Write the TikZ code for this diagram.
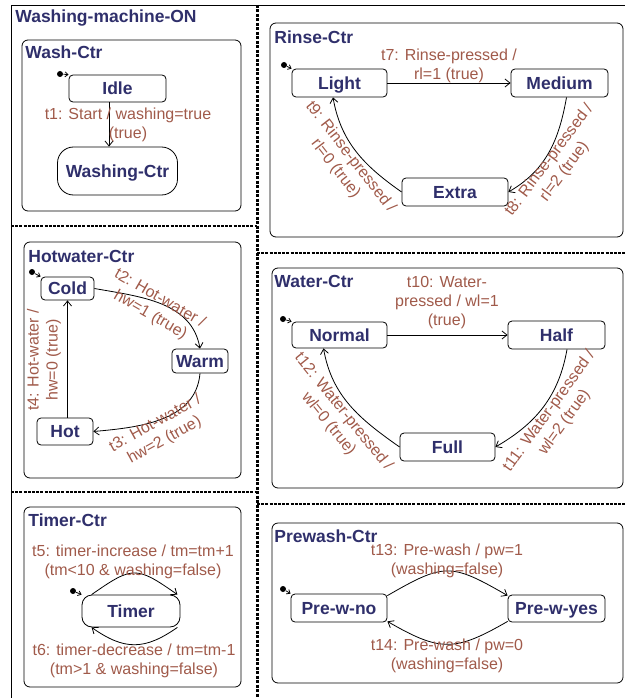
\documentclass[tikz,border=0pt]{standalone}
\usepackage{fontspec}
\setmainfont{Liberation Sans}
\usetikzlibrary{arrows.meta}
\definecolor{navy}{RGB}{47,47,107}
\definecolor{rust}{RGB}{160,90,74}

\begin{document}
\begin{tikzpicture}[x=1pt,y=1pt,line width=0.8pt,
    region/.style={draw,rounded corners=6pt},
    rtitle/.style={anchor=base west,inner sep=0pt,text=navy,font=\fontsize{17.5}{20}\selectfont\bfseries},
    state/.style={draw,fill=white,rounded corners=4pt,inner sep=0pt,text height=12.6pt,text depth=0pt,
                  text=navy,font=\fontsize{17.5}{20}\selectfont\bfseries},
    lbl/.style={inner sep=0pt,text=rust,align=center,font=\fontsize{16}{19}\selectfont},
    init/.style={circle,fill,inner sep=0pt,minimum size=6pt},
    trans/.style={-{Straight Barb[length=5pt,width=8pt]}},
    initarr/.style={-{Straight Barb[length=3pt,width=5pt]}}]
    \useasboundingbox (0,0) rectangle (625,-698);

    \draw (11,-698) -- (11,-5) -- (625,-5);
    \node[rtitle] (machine) at (15,-22.5) {Washing-machine-ON};
    \draw[line width=3pt,dash pattern=on 3pt off 1.5pt] (257,-5) -- (257,-698);
    \draw[line width=2pt,dash pattern=on 3pt off 1.2pt]
        (11,-226) -- (257,-226)
        (11,-492) -- (257,-492)
        (257,-253) -- (625,-253)
        (257,-504) -- (625,-504);

    % Wash-Ctr
    \draw[region] (22,-40) rectangle (241,-211);
    \node[rtitle] (washctr) at (25,-59) {Wash-Ctr};
    \node[state,minimum width=97pt,minimum height=27pt] (idle) at (117.5,-88.5) {Idle};
    \node[state,rounded corners=16pt,minimum width=120pt,minimum height=48pt] (washing) at (117.5,-171) {Washing-Ctr};
    \node[init] (i1) at (60,-74) {};
    \draw[initarr] (i1) -- (idle.north west);
    \draw[trans] ([xshift=-8.5pt]idle.south) -- ([xshift=-8.5pt]washing.north);
    \node[lbl] (t1) at (128,-125) {t1: Start / washing=true\\(true)};

    % Rinse-Ctr
    \draw[region] (270,-23) rectangle (623,-237);
    \node[rtitle] (rinsectr) at (274,-44) {Rinse-Ctr};
    \node[state,minimum width=95pt,minimum height=28pt] (light) at (339.5,-83) {Light};
    \node[state,minimum width=97pt,minimum height=28pt] (medium) at (559.5,-83) {Medium};
    \node[state,minimum width=106pt,minimum height=28pt] (extra) at (455,-192) {Extra};
    \node[init] (i2) at (284,-65) {};
    \draw[initarr] (i2) -- (light.north west);
    \draw[trans] (light) -- (medium);
    \draw[trans] ([xshift=7pt]medium.south) to[out=-100,in=30] (extra.east);
    \draw[trans] (extra.west) to[out=145,in=-80] ([xshift=-6.5pt]light.south);
    \node[lbl] (t7) at (449,-66) {t7: Rinse-pressed /\\rl=1 (true)};
    \node[lbl,rotate=53] (t8) at (557,-166) {t8: Rinse-pressed /\\rl=2 (true)};
    \node[lbl,rotate=-52] (t9) at (343,-163) {t9: Rinse-pressed /\\rl=0 (true)};

    % Hotwater-Ctr
    \draw[region] (24,-242) rectangle (241,-478);
    \node[rtitle] (hotctr) at (28,-262.5) {Hotwater-Ctr};
    \node[state,minimum width=53pt,minimum height=23pt] (cold) at (67.5,-288.5) {Cold};
    \node[state,minimum width=56pt,minimum height=24pt] (warm) at (200,-361) {Warm};
    \node[state,minimum width=56pt,minimum height=27pt] (hot) at (65,-431.5) {Hot};
    \node[init] (i3) at (32,-272) {};
    \draw[initarr] (i3) -- (cold.north west);
    \draw[trans] (cold.east) to[out=-10,in=100] (warm.north);
    \draw[trans] (warm.south) to[out=-95,in=5] (hot.east);
    \draw[trans] (hot.north -| cold.south) -- (cold.south);
    \node[lbl,rotate=-30] (t2) at (155,-307) {t2: Hot-water /\\hw=1 (true)};
    \node[lbl,rotate=29] (t3) at (160,-432) {t3: Hot-water /\\hw=2 (true)};
    \node[lbl,rotate=90] (t4) at (44,-360) {t4: Hot-water /\\hw=0 (true)};

    % Water-Ctr
    \draw[region] (272,-268) rectangle (623,-488);
    \node[rtitle] (waterctr) at (274,-287.5) {Water-Ctr};
    \node[state,minimum width=95pt,minimum height=26pt] (normal) at (339.5,-335) {Normal};
    \node[state,minimum width=97pt,minimum height=28pt] (half) at (556.5,-335) {Half};
    \node[state,minimum width=95pt,minimum height=28pt] (full) at (447.5,-447) {Full};
    \node[init] (i4) at (283,-319) {};
    \draw[initarr] (i4) -- (normal.north west);
    \draw[trans] (normal) -- (half);
    \draw[trans] ([xshift=10.5pt]half.south) to[out=-100,in=30] (full.east);
    \draw[trans] (full.west) to[out=145,in=-80] ([xshift=-16pt]normal.south);
    \node[lbl] (t10) at (447,-303) {t10: Water-\\pressed / wl=1\\(true)};
    \node[lbl,rotate=54] (t11) at (557,-417) {t11: Water-pressed /\\wl=2 (true)};
    \node[lbl,rotate=-51] (t12) at (336,-418) {t12: Water-pressed /\\wl=0 (true)};

    % Timer-Ctr
    \draw[region] (24,-507) rectangle (241,-687);
    \node[rtitle] (timerctr) at (28,-526) {Timer-Ctr};
    \node[state,rounded corners=10pt,minimum width=98pt,minimum height=32pt] (timer) at (131,-611) {Timer};
    \node[init] (i5) at (73,-591) {};
    \draw[initarr] (i5) -- (timer.north west);
    \draw[trans] ([xshift=10pt]timer.north west) to[out=35,in=145,looseness=1.5] ([xshift=-3pt]timer.north east);
    \draw[trans] ([xshift=-3pt]timer.south east) to[out=-145,in=-35,looseness=1.2] ([xshift=10pt]timer.south west);
    \node[lbl] (t5) at (133,-562) {t5: timer-increase / tm=tm+1\\(tm<10 \& washing=false)};
    \node[lbl] (t6) at (134,-661) {t6: timer-decrease / tm=tm-1\\(tm>1 \& washing=false)};

    % Prewash-Ctr
    \draw[region] (272,-523) rectangle (623,-683);
    \node[rtitle] (prewashctr) at (274,-542) {Prewash-Ctr};
    \node[state,minimum width=96pt,minimum height=28pt] (prewno) at (339,-608) {Pre-w-no};
    \node[state,minimum width=97pt,minimum height=27pt] (prewyes) at (556.5,-608.5) {Pre-w-yes};
    \node[init] (i6) at (283,-589) {};
    \draw[initarr] (i6) -- (prewno.north west);
    \draw[trans] ([yshift=-2pt]prewno.north east) to[out=30,in=150,looseness=1.4] ([yshift=-1pt]prewyes.north west);
    \draw[trans] ([yshift=1pt]prewyes.south west) to[out=-150,in=-30,looseness=1.3] ([yshift=1pt]prewno.south east);
    \node[lbl] (t13) at (447,-561) {t13: Pre-wash / pw=1\\(washing=false)};
    \node[lbl] (t14) at (447,-656) {t14: Pre-wash / pw=0\\(washing=false)};
\end{tikzpicture}
\end{document}
